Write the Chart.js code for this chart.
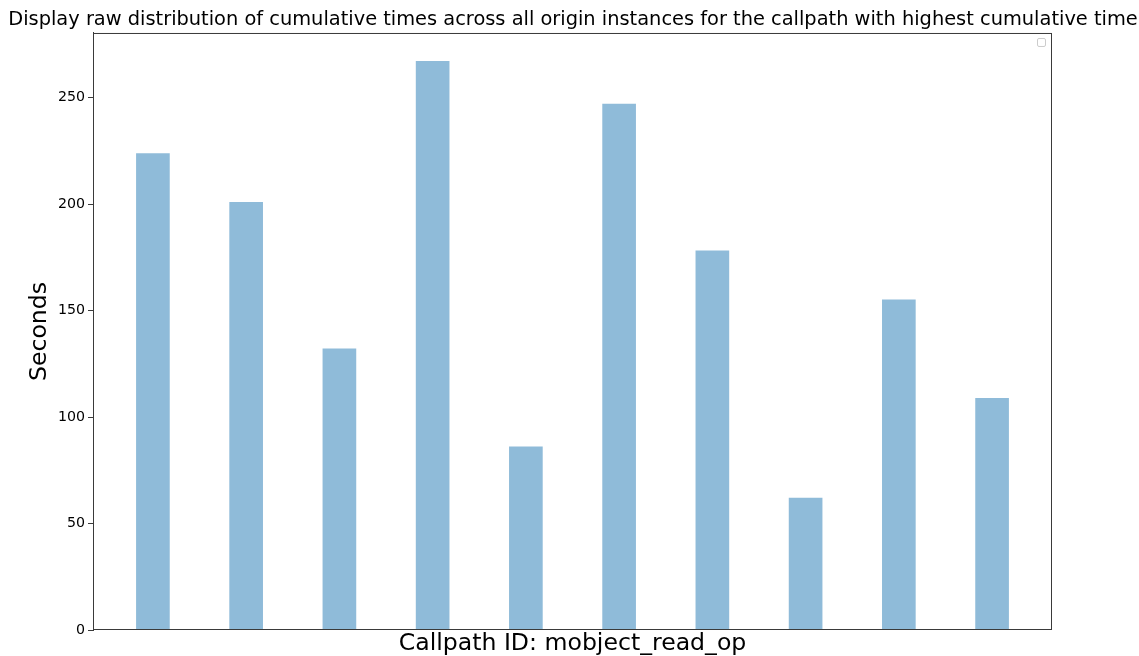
<!DOCTYPE html>
<html lang="en">
<head>
    <meta charset="UTF-8">
    <title>Cumulative times per origin instance</title>
    <style>
        html, body { margin: 0; padding: 0; background: #fff; }
        #wrap { width: 1139px; height: 656px; }
    </style>
</head>
<body>
    <div id="wrap"><canvas id="myChart"></canvas></div>
    <script src="https://cdn.jsdelivr.net/npm/chart.js"></script>
    <script>
        // one bar per origin instance, cumulative seconds
        const instances = ['0', '1', '2', '3', '4', '5', '6', '7', '8', '9'];
        const seconds = [223.7, 200.8, 132, 267, 86, 247, 178, 62, 155, 108.8];
        const yTicks = [0, 50, 100, 150, 200, 250];

        const titleText = 'Display raw distribution of cumulative times across all origin instances for the callpath with highest cumulative time';
        const xLabel = 'Callpath ID: mobject_read_op';
        const yLabel = 'Seconds';

        // matplotlib-like limits (5% margins)
        const barW = 0.35;
        const span = (instances.length - 1) + barW;
        const xMin = -barW / 2 - span * 0.05;
        const xMax = instances.length - 1 + barW / 2 + span * 0.05;
        const yMax = Math.max(...seconds) * 1.05;

        // frame on all four sides + empty legend box
        const frame = {
            id: 'frame',
            afterDraw(chart) {
                const { ctx, chartArea: a } = chart;
                ctx.save();
                ctx.strokeStyle = '#3a3a3a';
                ctx.lineWidth = 1;
                ctx.strokeRect(a.left + 0.5, a.top + 0.5, a.right - a.left - 1, a.bottom - a.top - 1);
                ctx.strokeStyle = '#cccccc';
                ctx.beginPath();
                ctx.roundRect(a.right - 14.5, a.top + 5.5, 8, 8, 1.5);
                ctx.stroke();
                ctx.restore();
            }
        };

        const ctx = document.getElementById('myChart').getContext('2d');
        new Chart(ctx, {
            type: 'bar',
            data: {
                datasets: [{
                    label: 'times',
                    data: seconds.map((v, i) => ({ x: i, y: v })),
                    backgroundColor: 'rgba(31, 119, 180, 0.5)',
                    borderWidth: 0,
                    barThickness: 33
                }]
            },
            plugins: [frame],
            options: {
                responsive: true,
                maintainAspectRatio: false,
                animation: false,
                layout: { padding: { left: 7, right: 0, top: 0, bottom: 0 } },
                plugins: {
                    legend: { display: false },
                    tooltip: { enabled: false },
                    title: {
                        display: true,
                        text: titleText,
                        color: '#000',
                        font: { family: 'DejaVu Sans', size: 19.4, weight: 'normal', lineHeight: 1.2 },
                        padding: { top: 8, bottom: 1.7 }
                    }
                },
                scales: {
                    x: {
                        type: 'linear',
                        offset: false,
                        min: xMin,
                        max: xMax,
                        grid: { display: false, offset: false },
                        border: { display: false },
                        ticks: { display: false },
                        title: {
                            display: true,
                            text: xLabel,
                            color: '#000',
                            font: { family: 'DejaVu Sans', size: 23.6, lineHeight: 1 },
                            padding: { top: 0, bottom: 0 }
                        },
                        afterFit(scale) { scale.height = 26; }
                    },
                    y: {
                        min: 0,
                        max: yMax,
                        grid: { drawOnChartArea: false, drawTicks: true, tickLength: 5, color: '#3a3a3a' },
                        border: { display: true, color: '#3a3a3a' },
                        afterBuildTicks(scale) { scale.ticks = yTicks.map(v => ({ value: v })); },
                        ticks: {
                            color: '#000',
                            padding: 3,
                            font: { family: 'DejaVu Sans', size: 14.2 }
                        },
                        title: {
                            display: true,
                            text: yLabel,
                            color: '#000',
                            font: { family: 'DejaVu Sans', size: 23.6, lineHeight: 1 },
                            padding: { top: 21, bottom: 0 }
                        },
                        afterFit(scale) { scale.width = 86; }
                    },
                    // empty right-hand space, as in the original figure
                    yRight: {
                        position: 'right',
                        display: true,
                        grid: { display: false },
                        border: { display: false },
                        ticks: { display: false },
                        afterFit(scale) { scale.width = 87; }
                    }
                }
            }
        });
    </script>
</body>
</html>
